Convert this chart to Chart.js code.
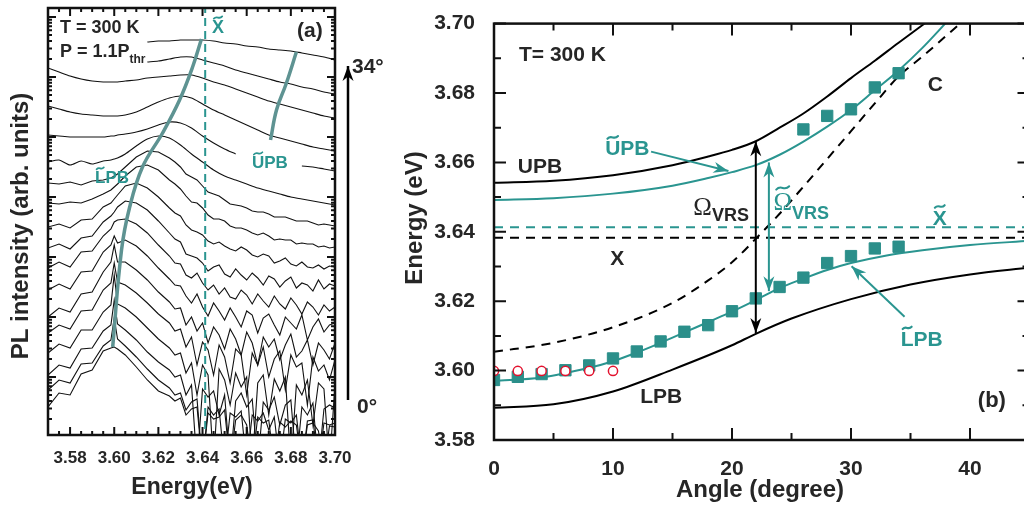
<!DOCTYPE html>
<html>
<head>
<meta charset="utf-8">
<script src="https://cdn.jsdelivr.net/npm/chart.js@4.4.1/dist/chart.umd.min.js"></script>
<style>
  html, body { margin: 0; padding: 0; background: #fff; width: 1024px; height: 506px; overflow: hidden; }
  #plChart { position: absolute; left: 0; top: 0; }
  #dispChart { position: absolute; left: 390px; top: 0; }
</style>
</head>
<body>
<canvas id="plChart" width="390" height="506"></canvas>
<canvas id="dispChart" width="650" height="506"></canvas>
<script>
// ---------- (a) PL spectra, offset vertically, 0° at the bottom to 34° at the top ----------
const energyGrid = [3.570, 3.575, 3.580, 3.585, 3.590, 3.595, 3.5985, 3.600, 3.6015, 3.605, 3.610, 3.615, 3.620, 3.625,
  3.630, 3.635, 3.640, 3.645, 3.650, 3.655, 3.660, 3.665, 3.670, 3.675, 3.680, 3.685, 3.690, 3.695, 3.700];
// extra samples in the noisy high-energy part
const tailGrid = [3.6275, 3.6325, 3.6375, 3.6425, 3.6475, 3.6525, 3.6575, 3.6625, 3.6675, 3.6725, 3.6775,
  3.6825, 3.6875, 3.6925, 3.6975];

const pl34 = [null, null, null, null, null, null, null, null, null, null, null,
  393, 394, 394, 395, 395, 395, 394, 392, 391, 389, 388, 386, 385, 384, 382, 380, 378, 375];
const pl32 = [null, null, null, null, null, null, null, null, null, null, null,
  373, 374, 376, 378, 378, 375, 372, 369, 365, 362, 359, 356, 353, 351, 348, 346, 343, 341];
const pl30 = [367, 363, 359, 356, 354, 353, 353, 353, 353, 354, 355, 357, 358, 359, 360, 360, 357, 353, 350, 346, 342, 338, 334, 331, 328, 325, 322, 319, 317];
const pl28 = [329, 326, 323, 321, 320, 319, 319, 319, 319, 320, 323, 328, 333, 337, 339, 337, 331, 325, 320, 315, 310, 305, 300, 297, 294, 291, 288, 286, 284];
const pl26 = [300, 299, 298, 298, 298, 298, 299, 299, 300, 301, 303, 306, 310, 313, 312, 307, 299, 292, 286, 281, null, null, null, null, null, 269, 268, 266, 264];
const pl24 = [273, 275, 270, 274, 271, 274, 275, 276, 277, 281, 289, 296, 299, 297, 290, 281, 273, 265, 259, 255, 251, 247, 244, 241, 238, 236, 234, 232, 230];
const pl22 = [252, 251, 253, 250, 254, 255, 257, 259, 261, 268, 278, 284, 283, 277, 268, 258, 249, 241, 235, 230, 227, 223, 221, 218, 216, 214, 212, 211, 209];
const pl20 = [232, 231, 233, 232, 236, 241, 245, 248, 251, 259, 268, 270, 265, 255, 246, 233, 227, 216, 214, 207, 205, 200, 199, 196, 195, 192, 191, 189, 188];
const pl18 = [208, 211, 207, 215, 216, 228, 232, 236, 240, 249, 252, 247, 238, 227, 219, 205, 200, 191, 189, 184, 185, 178, 179, 174, 171, 173, 167, 166, 168];
const pl16 = [187, 191, 186, 197, 199, 213, 219, 223, 228, 234, 232, 225, 214, 202, 193, 179, 172, 168, 161, 166, 155, 157, 159, 148, 158, 152, 144, 146, 149];
const pl14 = [167, 173, 168, 183, 184, 199, 206, 213, 215, 216, 211, 202, 190, 179, 171, 157, 152, 150, 147, 136, 140, 141, 128, 131, 137, 121, 128, 130, 128];
const pl12 = [145, 151, 146, 163, 164, 183, 190, 199, 192, 195, 189, 179, 167, 156, 149, 132, 128, 132, 115, 118, 124, 102, 121, 100, 112, 120, 108, 103, 112];
const pl10 = [118, 127, 123, 141, 143, 163, 173, 190, 173, 173, 165, 155, 143, 133, 127, 118, 112, 108, 86, 96, 103, 70, 88, 75, 101, 84, 70, 85, 92];
const pl08 = [102, 110, 106, 124, 125, 145, 152, 172, 153, 150, 142, 132, 121, 112, 106, 98, 93, 60, 78, 86, 40, 70, 58, 84, 80, 72, 78, 70, 75];
const pl06 = [82, 91, 87, 105, 105, 123, 130, 160, 131, 127, 118, 107, 96, 87, 82, 72, 70, -30, 55, 62, 58, 52, 20, 44, -30, 40, 10, 46, 50];
const pl04 = [60, 70, 67, 86, 87, 104, 110, 135, 111, 105, 95, 83, 73, 65, 60, 50, 46, 44, 40, 34, 28, -30, 25, 10, 35, 28, 32, 26, 27];
const pl02 = [45, 55, 52, 71, 72, 89, 95, 117, 96, 89, 78, 66, 55, 47, 42, 33, -30, 20, -30, 18, -30, 14, 5, -30, 12, -30, 15, 12, 12];
const pl00 = [28, 42, 40, 61, 65, 84, 87, 88, 86, 80, 68, 55, 44, 39, 37, 26, -30, 16, 25, 15, 10, 18, 15, 13, 14, -30, 12, -30, 8];

const pl22Tail = [273, 261, 255, 243, 239, 231, 229, 224, 223, 218, 218, 214, 214, 210, 210];
const pl20Tail = [251, 239, 232, 220, 216, 209, 207, 202, 202, 195, 195, 191, 191, 188, 187];
const pl18Tail = [222, 210, 203, 194, 193, 186, 188, 180, 181, 172, 177, 169, 168, 170, 169];
const pl16Tail = [196, 181, 177, 164, 170, 158, 160, 162, 150, 156, 154, 147, 150, 155, 151];
const pl14Tail = [172, 160, 162, 145, 141, 138, 145, 131, 134, 139, 126, 130, 133, 120, 124];
const pl12Tail = [150, 139, 141, 119, 124, 127, 108, 120, 117, 110, 118, 106, 95, 116, 110];
const pl10Tail = [126, 110, 104, 92, 100, 106, 80, 92, 98, 96, 90, 78, 95, 92, 76];
const pl08Tail = [104, 88, 70, 85, 90, 52, 80, 82, 88, 76, 45, 68, 30, 64, 55];
const pl06Tail = [80, 62, 40, 60, 66, 30, 48, -30, 60, 56, 58, 50, 55, 52, -30];
const pl04Tail = [58, 40, -30, 38, 20, -30, 42, 36, 33, 38, 30, -30, 20, -30, 30];
const pl02Tail = [40, 25, 36, 28, 26, 22, 24, 20, 22, 18, 16, 20, 14, -30, 10];
const pl00Tail = [34, 20, 28, 22, 18, -30, 20, -30, 12, -30, 8, 10, 10, 4, 9];

const plSpectra = [
  [pl00, pl00Tail], [pl02, pl02Tail], [pl04, pl04Tail], [pl06, pl06Tail], [pl08, pl08Tail], [pl10, pl10Tail],
  [pl12, pl12Tail], [pl14, pl14Tail], [pl16, pl16Tail], [pl18, pl18Tail], [pl20, pl20Tail], [pl22, pl22Tail],
  [pl24, null], [pl26, null], [pl28, null], [pl30, null], [pl32, null], [pl34, null]
];

// peak positions followed across the spectra
const lpbTraceE = [3.5993, 3.6033, 3.6070, 3.6128, 3.6219, 3.6296, 3.6355, 3.6395];
const lpbTraceI = [88, 185, 228, 268, 302, 335, 368, 396];
const upbTraceE = [3.6708, 3.6735, 3.6780, 3.6825];
const upbTraceI = [295, 325, 352, 383];
const xTildeEnergy = 3.6412;

const plTickMajor = [3.58, 3.60, 3.62, 3.64, 3.66, 3.68, 3.70];
const plTickMinor = [3.575, 3.585, 3.59, 3.595, 3.605, 3.61, 3.615, 3.625, 3.63, 3.635, 3.645, 3.65, 3.655,
  3.665, 3.67, 3.675, 3.685, 3.69, 3.695];
const logDecades = [58, 118, 178, 238, 298, 358, 418];
const logMinor = [0.301, 0.477, 0.602, 0.699, 0.778, 0.845, 0.903, 0.954];

// ---------- (b) dispersion ----------
const upbAngle = [0, 5, 10, 15, 18, 20, 22, 24, 26, 28, 30, 32, 34, 36.3];
const upbEnergy = [3.6541, 3.6547, 3.6563, 3.6592, 3.6617, 3.6636, 3.6661, 3.6700, 3.6741, 3.6790, 3.6843, 3.6893, 3.6945, 3.7003];
const upbTAngle = [0, 5, 10, 15, 18, 20, 22, 24, 26, 28, 30, 32, 34, 36, 38];
const upbTEnergy = [3.6492, 3.6497, 3.6510, 3.6533, 3.6555, 3.6572, 3.6592, 3.6622, 3.6660, 3.6703, 3.6751, 3.6808, 3.6865, 3.6930, 3.7003];
const lpbAngle = [0, 5, 10, 15, 20, 22, 25, 30, 35, 40, 45];
const lpbEnergy = [3.5893, 3.5903, 3.5940, 3.6003, 3.6073, 3.6106, 3.6150, 3.6206, 3.6248, 3.6277, 3.6297];
const lpbTAngle = [0, 4, 8, 10, 12, 14, 16, 18, 20, 22, 24, 26, 28, 30, 33, 36, 40, 45];
const lpbTEnergy = [3.5970, 3.5980, 3.6008, 3.6027, 3.6052, 3.6080, 3.6110, 3.6140, 3.6170, 3.6203, 3.6238, 3.6265, 3.6290, 3.6310, 3.6332, 3.6347, 3.6362, 3.6374];
const cavAngle = [0, 5, 10, 15, 18, 20, 22, 24, 26, 28, 30, 32, 34, 36, 38, 39.5];
const cavEnergy = [3.6054, 3.6080, 3.6125, 3.6195, 3.6260, 3.6312, 3.6380, 3.6452, 3.6530, 3.6610, 3.6690, 3.6770, 3.6848, 3.6905, 3.6965, 3.7010];
const excitonEnergy = 3.6383;
const excitonTEnergy = 3.6413;

const lowerAngle = [0, 2, 4, 6, 8, 10, 12, 14, 16, 18, 20, 22, 24, 26, 28, 30, 32, 34];
const lowerPeak = [3.5973, 3.5982, 3.5990, 3.6001, 3.6015, 3.6035, 3.6055, 3.6084, 3.6112, 3.6131, 3.6171, 3.6208, 3.6241, 3.6268, 3.6310, 3.6330, 3.6352, 3.6357];
const upperAngle = [26, 28, 30, 32, 34];
const upperPeak = [3.6695, 3.6734, 3.6753, 3.6816, 3.6857];
const lasingAngle = [0, 2, 4, 6, 8, 10];
const lasingPeak = [3.5999, 3.5999, 3.5999, 3.5999, 3.5999, 3.5999];

const angleMajor = [0, 10, 20, 30, 40];
const angleMinor = [5, 15, 25, 35, 45];
const dispMajor = [3.58, 3.60, 3.62, 3.64, 3.66, 3.68, 3.70];
const dispMinor = [3.59, 3.61, 3.63, 3.65, 3.67, 3.69];

// ---------- styling ----------
const ink = '#262626';
const teal = '#2a9590';
const tealMark = '#2b8f8a';
const traceColor = '#5e9392';
const sans = '"Liberation Sans", Arial, sans-serif';
const serif = '"Liberation Serif", "Times New Roman", serif';

Chart.defaults.font.family = sans;
Chart.defaults.color = ink;

const pairs = (xs, ys) => xs.map((v, i) => ({ x: v, y: ys[i] }));

function text(ctx, str, x, y, size, color, opts = {}) {
  ctx.save();
  ctx.font = (opts.weight || 'bold') + ' ' + size + 'px ' + (opts.family || sans);
  ctx.fillStyle = color;
  ctx.textAlign = opts.align || 'left';
  ctx.textBaseline = 'alphabetic';
  ctx.fillText(str, x, y);
  const w = ctx.measureText(str).width;
  ctx.restore();
  return w;
}

// small wavy line drawn above a letter
function tilde(ctx, cx, cy, w, color, lw) {
  const a = w * 0.13;
  ctx.save();
  ctx.strokeStyle = color;
  ctx.lineWidth = lw;
  ctx.lineCap = 'round';
  ctx.beginPath();
  ctx.moveTo(cx - w / 2, cy + a);
  ctx.bezierCurveTo(cx - w * 0.1, cy - 2.4 * a, cx + w * 0.1, cy + 2.4 * a, cx + w / 2, cy - a);
  ctx.stroke();
  ctx.restore();
}

function tildeText(ctx, str, x, y, size, color) {
  ctx.save();
  ctx.font = 'bold ' + size + 'px ' + sans;
  const first = ctx.measureText(str[0]).width;
  ctx.restore();
  text(ctx, str, x, y, size, color);
  tilde(ctx, x + first / 2, y - size * 0.86, first * 0.7, color, size * 0.1);
}

function arrowHead(ctx, x0, y0, x1, y1, len, half, color) {
  const ang = Math.atan2(y1 - y0, x1 - x0);
  ctx.save();
  ctx.fillStyle = color;
  ctx.beginPath();
  ctx.moveTo(x1, y1);
  ctx.lineTo(x1 - len * Math.cos(ang) + half * Math.sin(ang), y1 - len * Math.sin(ang) - half * Math.cos(ang));
  ctx.lineTo(x1 - len * 0.7 * Math.cos(ang), y1 - len * 0.7 * Math.sin(ang));
  ctx.lineTo(x1 - len * Math.cos(ang) - half * Math.sin(ang), y1 - len * Math.sin(ang) + half * Math.cos(ang));
  ctx.closePath();
  ctx.fill();
  ctx.restore();
}

function arrow(ctx, x0, y0, x1, y1, color, lw, both) {
  ctx.save();
  ctx.strokeStyle = color;
  ctx.lineWidth = lw;
  ctx.beginPath();
  ctx.moveTo(x0, y0);
  ctx.lineTo(x1, y1);
  ctx.stroke();
  ctx.restore();
  arrowHead(ctx, x0, y0, x1, y1, 15, 5.5, color);
  if (both) arrowHead(ctx, x1, y1, x0, y0, 15, 5.5, color);
}

// box with inward ticks on all four sides
function drawFrame(chart, xTicks, yTicks) {
  const { ctx, chartArea: a } = chart;
  const sx = chart.scales.x, sy = chart.scales.y;
  ctx.save();
  ctx.strokeStyle = '#111';
  ctx.lineWidth = 2;
  ctx.beginPath();
  xTicks.forEach(([v, len]) => {
    const px = sx.getPixelForValue(v);
    ctx.moveTo(px, a.bottom); ctx.lineTo(px, a.bottom - len);
    ctx.moveTo(px, a.top); ctx.lineTo(px, a.top + len);
  });
  yTicks.forEach(([v, len]) => {
    const py = sy.getPixelForValue(v);
    ctx.moveTo(a.left, py); ctx.lineTo(a.left + len, py);
    ctx.moveTo(a.right, py); ctx.lineTo(a.right - len, py);
  });
  ctx.stroke();
  ctx.lineWidth = 2.5;
  ctx.strokeRect(a.left, a.top, a.right - a.left, a.bottom - a.top);
  ctx.restore();
}

// ---------- chart (a) ----------
const plDatasets = plSpectra.map(([main, tail]) => {
  let pts = pairs(energyGrid, main);
  if (tail) pts = pts.concat(pairs(tailGrid, tail)).sort((p, q) => p.x - q.x);
  return {
    data: pts,
    borderColor: '#111',
    borderWidth: 1.1,
    pointRadius: 0,
    tension: tail ? 0 : 0.25
  };
});
plDatasets.unshift(
  { data: pairs(lpbTraceE, lpbTraceI), borderColor: traceColor, borderWidth: 3.5, pointRadius: 0, tension: 0.4 },
  { data: pairs(upbTraceE, upbTraceI), borderColor: traceColor, borderWidth: 3.5, pointRadius: 0, tension: 0.4 },
  { data: [{ x: xTildeEnergy, y: -20 }, { x: xTildeEnergy, y: 440 }], borderColor: teal, borderWidth: 2,
    borderDash: [8, 5], pointRadius: 0 }
);

const plDecor = {
  id: 'plDecor',
  afterDraw(chart) {
    const ctx = chart.ctx;
    const yTicks = [];
    logDecades.forEach(d => {
      yTicks.push([d, 8]);
      logMinor.forEach(m => { const v = d + 60 * m; if (v < 427) yTicks.push([v, 4]); });
    });
    logMinor.forEach(m => yTicks.push([-2 + 60 * m, 4]));
    drawFrame(chart,
      plTickMajor.map(v => [v, 8]).concat(plTickMinor.map(v => [v, 4])),
      yTicks.filter(t => t[0] > 0));

    text(ctx, 'T = 300 K', 60, 33, 18, ink);
    const w = text(ctx, 'P = 1.1P', 60, 57, 18, ink);
    text(ctx, 'thr', 60 + w, 63, 12, ink);
    tildeText(ctx, 'X', 212, 33, 18, teal);
    text(ctx, '(a)', 297, 37, 21, ink);
    tildeText(ctx, 'LPB', 95, 183, 17, teal);
    tildeText(ctx, 'UPB', 252, 168, 17, teal);

    arrow(ctx, 348, 400, 348, 66, '#000', 2.5, false);
    text(ctx, '34°', 352, 73, 21, ink);
    text(ctx, '0°', 357, 413, 21, ink);

    text(ctx, 'Energy(eV)', 192, 494, 23, ink, { align: 'center' });
    ctx.save();
    ctx.translate(28, 226);
    ctx.rotate(-Math.PI / 2);
    text(ctx, 'PL intensity (arb. units)', 0, 0, 24, ink, { align: 'center' });
    ctx.restore();
  }
};

new Chart(document.getElementById('plChart'), {
  type: 'line',
  data: { datasets: plDatasets },
  options: {
    responsive: false,
    animation: false,
    devicePixelRatio: 1,
    layout: { padding: { left: 48, top: 8, right: 55 } },
    plugins: { legend: { display: false }, tooltip: { enabled: false } },
    scales: {
      x: {
        type: 'linear', min: 3.57, max: 3.70,
        grid: { display: false }, border: { display: false },
        ticks: { font: { size: 17, weight: 'bold' }, color: ink, padding: 5, callback: v => v.toFixed(2) },
        afterBuildTicks: s => { s.ticks = plTickMajor.map(v => ({ value: v })); },
        afterFit: s => { s.height = 71; }
      },
      y: { type: 'linear', min: 0, max: 427, display: false }
    }
  },
  plugins: [plDecor]
});

// ---------- chart (b) ----------
const dispDecor = {
  id: 'dispDecor',
  afterDraw(chart) {
    const ctx = chart.ctx;
    const sx = chart.scales.x, sy = chart.scales.y;
    const X = v => sx.getPixelForValue(v), Y = v => sy.getPixelForValue(v);
    drawFrame(chart,
      angleMajor.map(v => [v, 12]).concat(angleMinor.map(v => [v, 7])),
      dispMajor.map(v => [v, 12]).concat(dispMinor.map(v => [v, 7])));

    // vacuum Rabi splitting arrows
    arrow(ctx, X(22), Y(3.6108), X(22), Y(3.6661), '#000', 2, true);
    arrow(ctx, X(23.1), Y(3.6229), X(23.1), Y(3.6600), teal, 2, true);
    // pointers to the fitted branches
    arrow(ctx, X(13.2), Y(3.6631), X(19.7), Y(3.6575), teal, 2, false);
    arrow(ctx, X(34.5), Y(3.6155), X(30.05), Y(3.6301), teal, 2, false);

    text(ctx, 'T= 300 K', X(2.1), Y(3.6891), 21, ink);
    text(ctx, 'UPB', X(2.0), Y(3.6569), 21, ink);
    tildeText(ctx, 'UPB', X(9.34), Y(3.6620), 21, teal);
    let w = text(ctx, 'Ω', X(16.75), Y(3.6449), 25, ink, { weight: 'normal', family: serif });
    text(ctx, 'VRS', X(16.75) + w, Y(3.6432), 18, ink);
    w = text(ctx, 'Ω', X(23.48), Y(3.6463), 25, teal, { weight: 'normal', family: serif });
    tilde(ctx, X(23.48) + w / 2, Y(3.6463) - 22, w * 0.7, teal, 2);
    text(ctx, 'VRS', X(23.48) + w, Y(3.6438), 18, teal);
    tildeText(ctx, 'X', X(36.87), Y(3.6421), 21, teal);
    text(ctx, 'X', X(9.76), Y(3.6304), 21, ink);
    text(ctx, 'C', X(36.45), Y(3.6807), 21, ink);
    tildeText(ctx, 'LPB', X(34.18), Y(3.6071), 21, teal);
    text(ctx, 'LPB', X(12.29), Y(3.5906), 21, ink);
    text(ctx, '(b)', X(40.66), Y(3.5895), 22, ink);

    text(ctx, 'Angle (degree)', 370, 497, 24, ink, { align: 'center' });
    ctx.save();
    ctx.translate(32, 218);
    ctx.rotate(-Math.PI / 2);
    text(ctx, 'Energy (eV)', 0, 0, 24, ink, { align: 'center' });
    ctx.restore();
  }
};

const curve = (xs, ys, color, width, dash) => ({
  type: 'line', data: pairs(xs, ys), borderColor: color, borderWidth: width,
  borderDash: dash || [], pointRadius: 0, cubicInterpolationMode: 'monotone'
});

new Chart(document.getElementById('dispChart'), {
  type: 'scatter',
  data: {
    datasets: [
      { data: pairs(lasingAngle, lasingPeak), pointStyle: 'circle', pointRadius: 4.6,
        borderColor: '#e3122e', backgroundColor: '#fff', borderWidth: 1.5 },
      { data: pairs(lowerAngle, lowerPeak), pointStyle: 'rect', pointRadius: 8,
        backgroundColor: tealMark, borderColor: tealMark, borderWidth: 1 },
      { data: pairs(upperAngle, upperPeak), pointStyle: 'rect', pointRadius: 8,
        backgroundColor: tealMark, borderColor: tealMark, borderWidth: 1 },
      curve(lpbTAngle, lpbTEnergy, teal, 2),
      curve(upbTAngle, upbTEnergy, teal, 2),
      curve(lpbAngle, lpbEnergy, '#000', 2),
      curve(upbAngle, upbEnergy, '#000', 2),
      curve(cavAngle, cavEnergy, '#000', 2, [9, 7]),
      curve([0, 45], [excitonEnergy, excitonEnergy], '#000', 2, [9, 7]),
      curve([0, 45], [excitonTEnergy, excitonTEnergy], teal, 2, [9, 7])
    ]
  },
  options: {
    responsive: false,
    animation: false,
    devicePixelRatio: 1,
    layout: { padding: { top: 11, right: 10.5 } },
    plugins: { legend: { display: false }, tooltip: { enabled: false } },
    scales: {
      x: {
        type: 'linear', min: 0, max: 45,
        grid: { display: false }, border: { display: false },
        ticks: { font: { size: 21, weight: 'bold' }, color: ink, padding: 9 },
        afterBuildTicks: s => { s.ticks = angleMajor.map(v => ({ value: v })); },
        afterFit: s => { s.height = 66; }
      },
      y: {
        type: 'linear', min: 3.58, max: 3.70,
        grid: { display: false }, border: { display: false },
        ticks: { font: { size: 21, weight: 'bold' }, color: ink, padding: 11, callback: v => v.toFixed(2) },
        afterBuildTicks: s => { s.ticks = dispMajor.map(v => ({ value: v })); },
        afterFit: s => { s.width = 104; }
      }
    }
  },
  plugins: [dispDecor]
});
</script>
</body>
</html>
